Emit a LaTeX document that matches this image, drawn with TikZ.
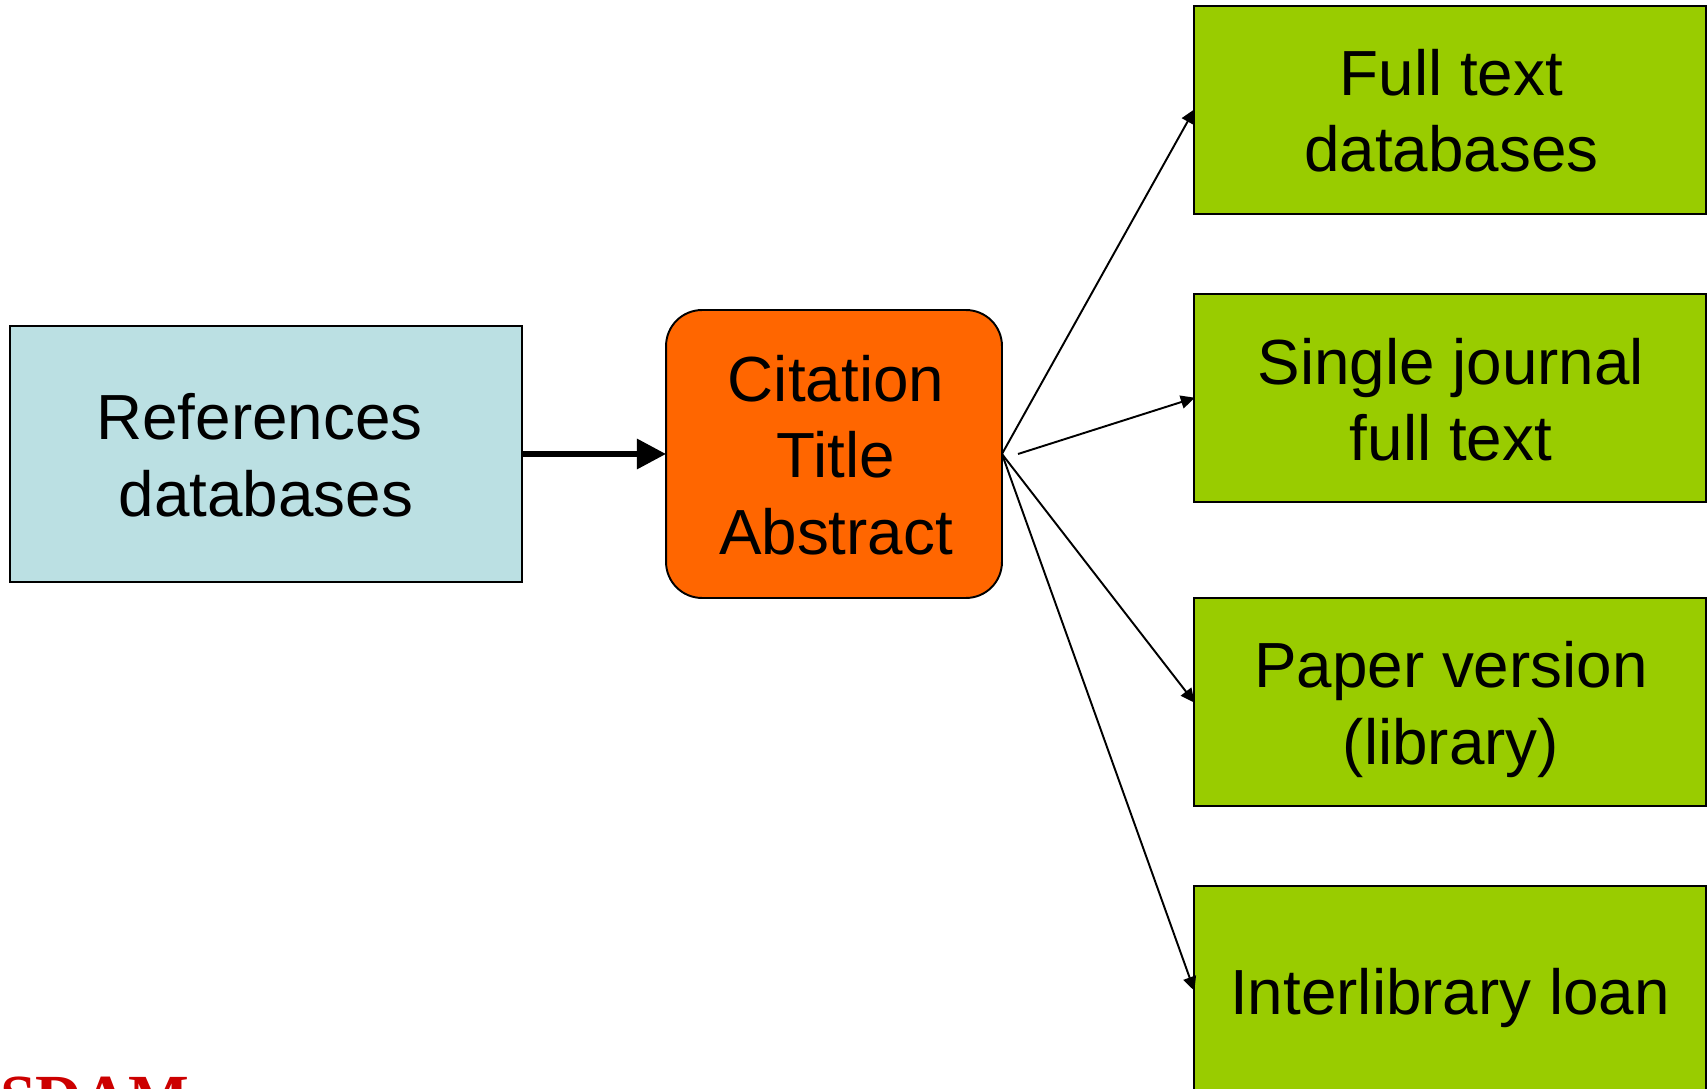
\documentclass[tikz,border=0pt]{standalone}
\usepackage{fontspec}
\setmainfont{Liberation Sans}
\newfontfamily\logofont{Liberation Serif}
\usetikzlibrary{arrows.meta,calc}
\definecolor{boxblue}{HTML}{BBE0E3}
\definecolor{boxorange}{HTML}{FF6600}
\definecolor{boxgreen}{HTML}{99CC00}
\definecolor{logored}{HTML}{CC0000}
\newcommand{\txl}[2]{\raisebox{-#1}[\height][\depth]{#2}}
\tikzset{
  x=0.02cm,y=-0.02cm,
  every node/.style={inner sep=0pt,outer sep=0pt,align=center,text=black,font=\fontsize{36.3}{43.6}\selectfont},
  boxbase/.style={draw=black,line width=1.1pt},
  refbox/.style={boxbase,fill=boxblue,minimum width=10.24cm,minimum height=5.12cm},
  citebox/.style={boxbase,fill=boxorange,rounded corners=0.72cm,minimum width=6.72cm,minimum height=5.76cm},
  targetbox/.style={boxbase,fill=boxgreen,minimum width=10.24cm,minimum height=4.16cm},
  thinarrow/.style={draw=black,line width=1.1pt,-{Triangle[length=8pt,width=7.5pt]},shorten >=-0.5pt},
  thickarrow/.style={draw=black,line width=3.4pt,-{Triangle[length=16.6pt,width=16.6pt]}},
}
\begin{document}
\begin{tikzpicture}
\useasboundingbox (0,0) rectangle (1707,1088.5);
\clip (0,0) rectangle (1707,1090);
\node[refbox] (ref) at (266,454) {\txl{0.7pt}{References\kern7.4pt}\\\txl{0.7pt}{databases}};
\node[citebox] (cite) at (834,454) {\txl{0.6pt}{\kern2.3pt Citation}\\\txl{0.6pt}{\kern2.3pt Title}\\\txl{0.6pt}{\kern2.3pt Abstract}};
\node[targetbox] (full) at (1450,110) {\txl{0.3pt}{\kern1.4pt Full text}\\\txl{0.3pt}{\kern1.4pt databases}};
\node[targetbox] (single) at (1450,398) {\txl{0.9pt}{\kern1.1pt Single journal}\\\txl{0.9pt}{\kern1.1pt full text}};
\node[targetbox] (paper) at (1450,702) {\txl{4.3pt}{\kern1.1pt Paper version}\\\txl{4.3pt}{\kern1.1pt (library)}};
\node[targetbox] (inter) at (1450,990) {\txl{4.3pt}{Interlibrary loan}};
\node[anchor=base west,text=logored,font=\logofont\bfseries\fontsize{36.6}{36.6}\selectfont] (logo) at (0,1119) {SDAM};
\coordinate (start2) at (1018,454);
\draw[thickarrow] (ref.east) -- (cite.west);
\draw[thinarrow] (cite.east) -- (full.west);
\draw[thinarrow] (start2) -- (single.west);
\draw[thinarrow] (cite.east) -- (paper.west);
\draw[thinarrow] (cite.east) -- (inter.west);
\end{tikzpicture}
\end{document}
